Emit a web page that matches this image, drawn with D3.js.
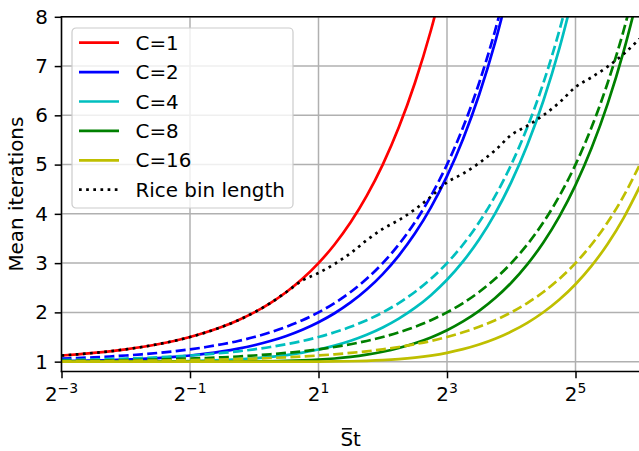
<!DOCTYPE html>
<html>
<head>
<meta charset="utf-8">
<script src="https://cdn.jsdelivr.net/npm/d3@7"></script>
<style>
  body { margin: 0; background: #fff; }
  svg { display: block; font-family: "DejaVu Sans", sans-serif; }
</style>
</head>
<body>
<div id="chart"></div>
<script>
// x positions: log2 of St-bar, every quarter octave
var log2St = [-3, -2.75, -2.5, -2.25, -2, -1.75, -1.5, -1.25, -1, -0.75, -0.5, -0.25,
  0, 0.25, 0.5, 0.75, 1, 1.25, 1.5, 1.75, 2, 2.25, 2.5, 2.75,
  3, 3.25, 3.5, 3.75, 4, 4.25, 4.5, 4.75, 5, 5.25, 5.5, 5.75, 6];

// solid lines, beyond the top of the plot the list just stops
var c1 = [1.125, 1.149, 1.177, 1.210, 1.25, 1.297, 1.354, 1.420, 1.5, 1.595, 1.707, 1.841,
  2, 2.189, 2.414, 2.682, 3, 3.378, 3.828, 4.364, 5, 5.757, 6.657, 7.727, 9];
var c2 = [1.0125, 1.0170, 1.0231, 1.0311, 1.0417, 1.0554, 1.0732, 1.0960, 1.125, 1.1615, 1.2071, 1.2637,
  1.3333, 1.4186, 1.5224, 1.6482, 1.8, 1.9826, 2.2018, 2.4642, 2.7778, 3.1522, 3.5988, 4.1309,
  4.7647, 5.5193, 6.4174, 7.4861, 8.7576];
var c4 = [1.0002, 1.0003, 1.0005, 1.0009, 1.0016, 1.0028, 1.0047, 1.0077, 1.0125, 1.0197, 1.0303, 1.0455,
  1.0667, 1.0954, 1.1335, 1.1830, 1.2462, 1.3256, 1.4243, 1.5457, 1.6938, 1.8732, 2.0897, 2.3499,
  2.6617, 3.0346, 3.4798, 4.0110, 4.6439, 5.3978, 6.2953, 7.3636, 8.6346];
var c8 = [1.0000, 1.0000, 1.0000, 1.0000, 1.0000, 1.0000, 1.0000, 1.0001, 1.0002, 1.0004, 1.0009, 1.0019,
  1.0039, 1.0076, 1.0141, 1.0245, 1.0406, 1.0642, 1.0974, 1.1424, 1.2016, 1.2776, 1.3735, 1.4925,
  1.6387, 1.8166, 2.0319, 2.2911, 2.6021, 2.9745, 3.4192, 3.9500, 4.5827, 5.3363, 6.2336, 7.3018, 8.5727];
var c16 = [1.0000, 1.0000, 1.0000, 1.0000, 1.0000, 1.0000, 1.0000, 1.0000, 1.0000, 1.0000, 1.0000, 1.0000,
  1.0000, 1.0001, 1.0002, 1.0006, 1.0015, 1.0037, 1.0079, 1.0158, 1.0290, 1.0496, 1.0798, 1.1222,
  1.1791, 1.2532, 1.3475, 1.4653, 1.6105, 1.7877, 2.0024, 2.2612, 2.5720, 2.9440, 3.3886, 3.9193, 4.5518];

// dashed lines
var c2dash = [1.0625, 1.074, 1.088, 1.105, 1.125, 1.149, 1.177, 1.210, 1.25, 1.297, 1.354, 1.420,
  1.5, 1.595, 1.707, 1.841, 2, 2.189, 2.414, 2.682, 3, 3.378, 3.828, 4.364,
  5, 5.757, 6.657, 7.727, 9];
var c4dash = [1.031, 1.037, 1.044, 1.053, 1.0625, 1.074, 1.088, 1.105, 1.125, 1.149, 1.177, 1.210,
  1.25, 1.297, 1.354, 1.420, 1.5, 1.595, 1.707, 1.841, 2, 2.189, 2.414, 2.682,
  3, 3.378, 3.828, 4.364, 5, 5.757, 6.657, 7.727, 9];
var c8dash = [1.016, 1.019, 1.022, 1.026, 1.031, 1.037, 1.044, 1.053, 1.0625, 1.074, 1.088, 1.105,
  1.125, 1.149, 1.177, 1.210, 1.25, 1.297, 1.354, 1.420, 1.5, 1.595, 1.707, 1.841,
  2, 2.189, 2.414, 2.682, 3, 3.378, 3.828, 4.364, 5, 5.757, 6.657, 7.727, 9];
var c16dash = [1.008, 1.009, 1.011, 1.013, 1.016, 1.019, 1.022, 1.026, 1.031, 1.037, 1.044, 1.053,
  1.0625, 1.074, 1.088, 1.105, 1.125, 1.149, 1.177, 1.210, 1.25, 1.297, 1.354, 1.420,
  1.5, 1.595, 1.707, 1.841, 2, 2.189, 2.414, 2.682, 3, 3.378, 3.828, 4.364, 5];

// dotted rice bin length
var rice = [1.125, 1.149, 1.177, 1.210, 1.25, 1.297, 1.354, 1.420, 1.5, 1.595, 1.707, 1.841,
  2, 2.189, 2.414, 2.648, 2.8, 2.983, 3.202, 3.464, 3.694, 3.873, 4.090, 4.350,
  4.639, 4.817, 5.032, 5.291, 5.602, 5.788, 6.002, 6.261, 6.572, 6.773, 6.988, 7.246, 7.557];

var labels = ['C=1', 'C=2', 'C=4', 'C=8', 'C=16', 'Rice bin length'];
var colors = ['#ff0000', '#0000ff', '#00bfbf', '#008000', '#bfbf00', '#000000'];
var xTickExp = [-3, -1, 1, 3, 5];
var yTicks = [1, 2, 3, 4, 5, 6, 7, 8];

var width = 639, height = 451;
// plot box (don't call these top/left: window.top is read only)
var pL = 61.5, pR = 639.75, pT = 16.8, pB = 371.5;
var lw = 2.7, fs = 19.9;

var svg = d3.select('#chart').append('svg').attr('width', width).attr('height', height);

var x = d3.scaleLog().base(2).domain([Math.pow(2, -3), Math.pow(2, 6)]).range([pL, pR]);
var y = d3.scaleLinear().domain([0.8, 8]).range([pB, pT]);

svg.append('clipPath').attr('id', 'plotclip').append('rect')
  .attr('x', pL).attr('y', pT).attr('width', pR - pL).attr('height', pB - pT);

// grid
var grid = svg.append('g');
grid.selectAll('.vg').data(xTickExp).enter().append('line')
  .attr('x1', function(d) { return x(Math.pow(2, d)); }).attr('x2', function(d) { return x(Math.pow(2, d)); })
  .attr('y1', pT).attr('y2', pB).attr('stroke', '#b0b0b0').attr('stroke-width', 1.5);
grid.selectAll('.hg').data(yTicks).enter().append('line')
  .attr('x1', pL).attr('x2', pR).attr('y1', function(d) { return y(d); }).attr('y2', function(d) { return y(d); })
  .attr('stroke', '#b0b0b0').attr('stroke-width', 1.5);

// lines
var series = [
  {v: c1, color: colors[0], dash: null},
  {v: c2, color: colors[1], dash: null},
  {v: c2dash, color: colors[1], dash: 'dash'},
  {v: c4, color: colors[2], dash: null},
  {v: c4dash, color: colors[2], dash: 'dash'},
  {v: c8, color: colors[3], dash: null},
  {v: c8dash, color: colors[3], dash: 'dash'},
  {v: c16, color: colors[4], dash: null},
  {v: c16dash, color: colors[4], dash: 'dash'},
  {v: rice, color: colors[5], dash: 'dot'}
];
function dashArray(kind) {
  if (kind == 'dash') return (3.7 * lw) + ',' + (1.6 * lw);
  if (kind == 'dot') return lw + ',' + (1.65 * lw);
  return null;
}
var line = d3.line()
  .defined(function(d) { return d[1] != null; })
  .x(function(d) { return x(Math.pow(2, d[0])); })
  .y(function(d) { return y(d[1]); })
  .curve(d3.curveMonotoneX);

var plot = svg.append('g').attr('clip-path', 'url(#plotclip)');
series.forEach(function(s) {
  var pts = s.v.map(function(v, i) { return [log2St[i], v]; });
  plot.append('path').attr('d', line(pts))
    .attr('fill', 'none').attr('stroke', s.color).attr('stroke-width', lw)
    .attr('stroke-dasharray', dashArray(s.dash));
});

// axes
var yAxis = svg.append('g').attr('transform', 'translate(' + pL + ',0)')
  .call(d3.axisLeft(y).tickValues(yTicks).tickSize(6.8).tickPadding(6.8).tickFormat(d3.format('d')));
yAxis.select('.domain').remove();
yAxis.selectAll('line').attr('stroke', '#000').attr('stroke-width', 1.5);
yAxis.selectAll('text').attr('font-size', fs).attr('font-family', '"DejaVu Sans", sans-serif').attr('fill', '#000');

var xAxis = svg.append('g').attr('transform', 'translate(0,' + pB + ')')
  .call(d3.axisBottom(x).tickValues(xTickExp.map(function(e) { return Math.pow(2, e); })).tickSize(6.8).tickFormat(''));
xAxis.select('.domain').remove();
xAxis.selectAll('line').attr('stroke', '#000').attr('stroke-width', 1.5);

var xl = svg.append('g').selectAll('text').data(xTickExp).enter().append('text')
  .attr('x', function(d) { return x(Math.pow(2, d)); }).attr('y', 400.5)
  .attr('text-anchor', 'middle').attr('font-size', fs);
xl.append('tspan').text('2');
xl.append('tspan').attr('font-size', fs * 0.7).attr('dy', -7.4)
  .text(function(d) { return d < 0 ? '\u2212' + (-d) : '' + d; });

// spines
svg.append('line').attr('x1', pL).attr('x2', pL).attr('y1', pT).attr('y2', pB)
  .attr('stroke', '#000').attr('stroke-width', 1.5).attr('stroke-linecap', 'square');
svg.append('line').attr('x1', pL).attr('x2', pR).attr('y1', pB).attr('y2', pB)
  .attr('stroke', '#000').attr('stroke-width', 1.5).attr('stroke-linecap', 'square');
svg.append('line').attr('x1', pL).attr('x2', pR).attr('y1', pT).attr('y2', pT)
  .attr('stroke', '#000').attr('stroke-width', 1.5).attr('stroke-linecap', 'square');

// axis labels
svg.append('text').attr('transform', 'translate(23,' + ((pT + pB) / 2) + ') rotate(-90)')
  .attr('text-anchor', 'middle').attr('font-size', fs).text('Mean iterations');
// kept a little above the edge so the descent box is not cut
var xlab = svg.append('text').attr('x', (pL + pR) / 2).attr('y', 446)
  .attr('text-anchor', 'middle').attr('font-size', fs).text('St');
var bb = xlab.node().getBBox();
svg.append('line').attr('x1', bb.x + 1.5).attr('x2', bb.x + 11.5).attr('y1', 428.8).attr('y2', 428.8)
  .attr('stroke', '#000').attr('stroke-width', 1.5);

// legend
var lg = svg.append('g').attr('transform', 'translate(72,28)');
lg.append('rect').attr('width', 221).attr('height', 180).attr('rx', 4)
  .attr('fill', '#fff').attr('fill-opacity', 0.8).attr('stroke', '#cccccc').attr('stroke-width', 1.2);
var entries = lg.selectAll('.entry').data(labels).enter().append('g')
  .attr('transform', function(d, i) { return 'translate(0,' + (14.7 + 29.4 * i) + ')'; });
entries.append('line').attr('x1', 7).attr('x2', 47).attr('y1', 0).attr('y2', 0)
  .attr('stroke', function(d, i) { return colors[i]; }).attr('stroke-width', lw)
  .attr('stroke-dasharray', function(d, i) { return i == 5 ? dashArray('dot') : null; });
entries.append('text').attr('x', 63.5).attr('y', 7).attr('font-size', fs).text(function(d) { return d; });
</script>
</body>
</html>
